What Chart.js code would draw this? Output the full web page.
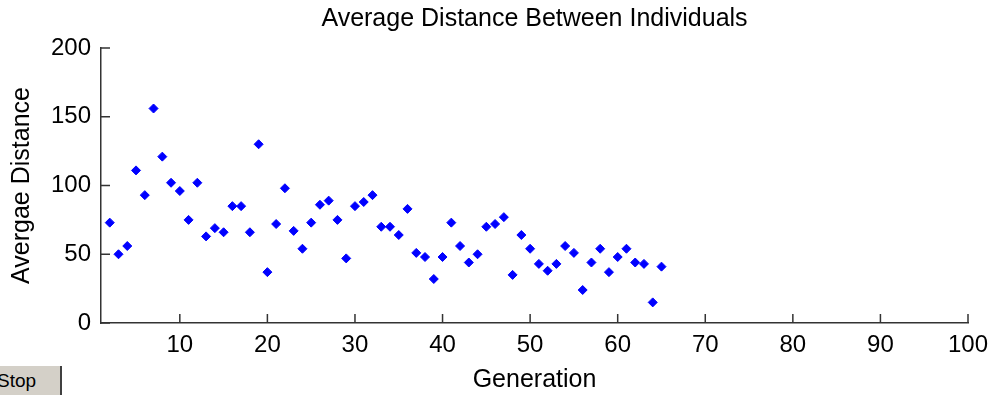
<!DOCTYPE html>
<html>
<head>
<meta charset="utf-8">
<script src="https://cdn.jsdelivr.net/npm/chart.js@4/dist/chart.umd.min.js"></script>
<style>
  body { margin: 0; background: #fff; }
  #wrap { position: relative; width: 992px; height: 395px; overflow: hidden; }
  #stop {
    position: absolute; left: 0; top: 366px; width: 60px; height: 29px;
    background: #d4d0c8; border-right: 2px solid #404040;
    font: 19px "Liberation Sans", Arial, sans-serif; color: #000;
    line-height: 29px; white-space: nowrap; overflow: hidden;
  }
  #stop span { margin-left: -3px; }
</style>
</head>
<body>
<div id="wrap">
  <canvas id="myChart" width="992" height="395"></canvas>
  <div id="stop"><span>Stop</span></div>
</div>
<script>
// generations 2..65
const generations = [
  2, 3, 4, 5, 6, 7, 8, 9, 10, 11, 12, 13, 14, 15, 16, 17, 18, 19, 20, 21,
  22, 23, 24, 25, 26, 27, 28, 29, 30, 31, 32, 33, 34, 35, 36, 37, 38, 39, 40, 41,
  42, 43, 44, 45, 46, 47, 48, 49, 50, 51, 52, 53, 54, 55, 56, 57, 58, 59, 60, 61,
  62, 63, 64, 65
];
const avgDistance = [
  73, 50, 56, 111, 93, 156, 121, 102, 96, 75, 102, 63, 69, 66, 85, 85, 66, 130, 37, 72,
  98, 67, 54, 73, 86, 89, 75, 47, 85, 88, 93, 70, 70, 64, 83, 51, 48, 32, 48, 73,
  56, 44, 50, 70, 72, 77, 35, 64, 54, 43, 38, 43, 56, 51, 24, 44, 54, 37, 48, 54,
  44, 43, 15, 41
];
const xTicks = [10, 20, 30, 40, 50, 60, 70, 80, 90, 100];
const yTicks = [0, 50, 100, 150, 200];

const axisColor = '#333333';
const labelFont = { family: '"Liberation Sans", Arial, sans-serif', size: 25 };
const tickFont = { family: '"Liberation Sans", Arial, sans-serif', size: 24 };

// MATLAB style ticks pointing into the plot
const innerTicks = {
  id: 'innerTicks',
  afterDatasetsDraw(chart) {
    const { ctx, scales: { x, y } } = chart;
    ctx.save();
    ctx.strokeStyle = axisColor;
    ctx.lineWidth = 1.5;
    ctx.beginPath();
    x.ticks.forEach(t => {
      const px = x.getPixelForValue(t.value);
      ctx.moveTo(px, y.bottom);
      ctx.lineTo(px, y.bottom - 9);
    });
    y.ticks.forEach(t => {
      const py = y.getPixelForValue(t.value);
      ctx.moveTo(x.left, py);
      ctx.lineTo(x.left + 9, py);
    });
    ctx.stroke();
    ctx.restore();
  }
};

const ctx = document.getElementById('myChart').getContext('2d');
new Chart(ctx, {
  type: 'scatter',
  data: {
    datasets: [{
      label: 'Average Distance',
      data: generations.map((g, i) => ({ x: g, y: avgDistance[i] })),
      pointStyle: 'rectRot',
      pointRadius: 4.5,
      pointBorderWidth: 1,
      backgroundColor: '#0000ff',
      borderColor: '#0000ff'
    }]
  },
  options: {
    responsive: false,
    animation: false,
    devicePixelRatio: 1,
    layout: { padding: { left: 0, right: 24, top: 0, bottom: 0 } },
    plugins: {
      legend: { display: false },
      tooltip: { enabled: false },
      title: {
        display: true,
        fullSize: false,
        text: 'Average Distance Between Individuals',
        color: '#000',
        font: { ...labelFont, weight: 'normal' },
        padding: { top: 4, bottom: 14 }
      }
    },
    scales: {
      x: {
        type: 'linear',
        min: 1,
        max: 100,
        afterBuildTicks: s => { s.ticks = xTicks.map(v => ({ value: v })); },
        afterFit: s => { s.height = 72; s.paddingLeft = 0; s.paddingRight = 0; },
        ticks: { color: '#000', font: tickFont, padding: 8, maxRotation: 0 },
        grid: { display: true, drawOnChartArea: false, drawTicks: false },
        border: { display: true, color: axisColor, width: 1.5 },
        title: {
          display: true, text: 'Generation', color: '#000', font: labelFont,
          padding: { top: 0, bottom: 0 }
        }
      },
      y: {
        min: 0,
        max: 200,
        afterBuildTicks: s => { s.ticks = yTicks.map(v => ({ value: v })); },
        afterFit: s => { s.width = 101; s.paddingTop = 0; s.paddingBottom = 0; },
        ticks: { color: '#000', font: tickFont, padding: 10 },
        grid: { display: true, drawOnChartArea: false, drawTicks: false },
        border: { display: true, color: axisColor, width: 1.5 },
        title: {
          display: true, text: 'Avergae Distance', color: '#000', font: labelFont,
          padding: { top: 7, bottom: 0 }
        }
      }
    }
  },
  plugins: [innerTicks]
});
</script>
</body>
</html>
